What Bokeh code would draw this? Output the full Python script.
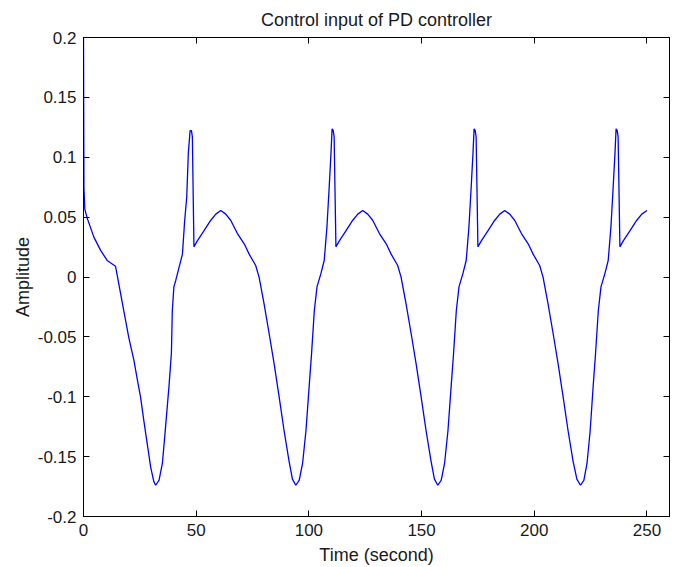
from bokeh.plotting import figure
from bokeh.models import LinearAxis, FixedTicker, Range1d, CustomJSTickFormatter
from bokeh.embed import file_html
from bokeh.resources import INLINE

# ---- data ----
time_s = [
    0.0, 0.2, 0.6, 1.6, 4.6, 7.6, 10.5, 14.2, 15.7, 17.9, 20.1, 22.4, 23.9, 25.3, 26.8, 28.3, 29.8, 31.2, 32.0,
    33.5, 35.0, 36.4, 37.9, 39.0, 39.4, 40.1, 40.9, 42.4, 43.9, 44.9, 45.8, 46.5, 47.3, 47.9, 48.3, 49.0,
    50.5, 53.5, 56.4, 58.7, 60.9, 63.1, 65.3, 68.3, 71.3, 73.5, 76.4, 77.9, 80.1, 82.4, 84.6, 86.8, 89.0, 91.2, 92.7, 94.2,
    95.7, 97.2, 98.7, 100.1, 101.2, 102.4, 103.6, 105.3, 106.8, 108.0, 109.0, 109.8, 110.3, 110.8, 111.2, 112.0,
    113.5, 116.5, 119.4, 121.7, 123.9, 126.1, 128.3, 131.3, 134.3, 136.5, 139.4, 140.9, 143.1, 145.4, 147.6, 149.8, 152.0, 154.2, 155.7, 157.2,
    158.7, 160.2, 161.7, 163.1, 164.2, 165.4, 166.6, 168.3, 169.8, 171.0, 172.0, 172.8, 173.3, 173.8, 174.2, 175.0,
    176.5, 179.5, 182.4, 184.7, 186.9, 189.1, 191.3, 194.3, 197.3, 199.5, 202.4, 203.9, 206.1, 208.4, 210.6, 212.8, 215.0, 217.2, 218.9, 220.5,
    222.0, 223.4, 224.8, 226.1, 227.2, 228.4, 229.6, 231.3, 232.8, 234.0, 235.0, 235.8, 236.3, 236.8, 237.2, 238.0,
    239.5, 242.5, 245.4, 247.7, 250.0,
]
amplitude = [
    0.200, 0.0737, 0.0565, 0.0494, 0.0333, 0.0222, 0.0138, 0.0090, -0.0061, -0.0284, -0.0506, -0.0698, -0.0860, -0.1001, -0.1203, -0.1395, -0.1587, -0.1708, -0.1739,
    -0.1698, -0.1557, -0.1254, -0.0920, -0.0637, -0.0284, -0.0082, -0.0031, 0.0080, 0.0191, 0.0474, 0.0666, 0.1030, 0.1222, 0.1222, 0.1171, 0.0252,
    0.0302, 0.0388, 0.0472, 0.0525, 0.0555, 0.0525, 0.0474, 0.0363, 0.0277, 0.0191, 0.0096, -0.0001, -0.0223, -0.0476, -0.0728, -0.1001, -0.1284, -0.1537, -0.1688, -0.1739,
    -0.1698, -0.1557, -0.1284, -0.0920, -0.0637, -0.0284, -0.0082, 0.0026, 0.0138, 0.0414, 0.0747, 0.1030, 0.1237, 0.1222, 0.1171, 0.0252,
    0.0302, 0.0388, 0.0472, 0.0525, 0.0555, 0.0525, 0.0474, 0.0363, 0.0277, 0.0191, 0.0096, -0.0001, -0.0223, -0.0476, -0.0728, -0.1001, -0.1284, -0.1537, -0.1688, -0.1739,
    -0.1698, -0.1557, -0.1284, -0.0920, -0.0637, -0.0284, -0.0082, 0.0026, 0.0138, 0.0414, 0.0747, 0.1030, 0.1237, 0.1222, 0.1171, 0.0252,
    0.0302, 0.0388, 0.0472, 0.0525, 0.0555, 0.0525, 0.0474, 0.0363, 0.0277, 0.0191, 0.0096, -0.0001, -0.0223, -0.0476, -0.0728, -0.1001, -0.1284, -0.1537, -0.1688, -0.1739,
    -0.1698, -0.1557, -0.1284, -0.0920, -0.0637, -0.0284, -0.0082, 0.0026, 0.0138, 0.0414, 0.0747, 0.1030, 0.1237, 0.1222, 0.1171, 0.0252,
    0.0302, 0.0388, 0.0472, 0.0525, 0.0555,
]

x_ticks = [0, 50, 100, 150, 200, 250]
x_tick_labels = ["0", "50", "100", "150", "200", "250"]
y_ticks = [-0.2, -0.15, -0.1, -0.05, 0, 0.05, 0.1, 0.15, 0.2]
y_tick_labels = ["-0.2", "-0.15", "-0.1", "-0.05", "0", "0.05", "0.1", "0.15", "0.2"]

FONT = "Liberation Sans"
TXT = "#1a1a1a"

p = figure(
    width=678, height=567,
    x_range=Range1d(0, 260), y_range=Range1d(-0.2, 0.2),
    output_backend="svg", toolbar_location=None,
    min_border_left=83, min_border_right=9, min_border_top=37, min_border_bottom=51,
    background_fill_color="white", border_fill_color="white",
    title="Control input of PD controller",
)
p.title.align = "center"
p.title.text_font = FONT
p.title.text_font_size = "18px"
p.title.text_font_style = "normal"
p.title.text_color = TXT
p.title.standoff = 15

p.grid.visible = False
p.outline_line_color = "black"
p.outline_line_width = 1

p.line(time_s, amplitude, line_color="#0000ff", line_width=1.3)

def style_axis(ax):
    ax.axis_line_color = "black"
    ax.major_tick_line_color = "black"
    ax.major_tick_in = 6
    ax.major_tick_out = 0
    ax.minor_tick_line_color = None
    ax.major_label_text_font = FONT
    ax.major_label_text_color = TXT
    ax.axis_label_text_font = FONT
    ax.axis_label_text_color = TXT
    ax.axis_label_text_font_style = "normal"

xa = p.xaxis[0]
ya = p.yaxis[0]
xa.ticker = FixedTicker(ticks=x_ticks)
ya.ticker = FixedTicker(ticks=y_ticks)
xa.major_label_overrides = dict(zip(x_ticks, x_tick_labels))
ya.major_label_overrides = dict(zip(y_ticks, y_tick_labels))
style_axis(xa)
style_axis(ya)
xa.major_label_text_font_size = "17px"
ya.major_label_text_font_size = "17px"
xa.major_label_standoff = 7
ya.major_label_standoff = 7
xa.axis_label = "Time (second)"
ya.axis_label = "Amplitude"
xa.axis_label_text_font_size = "18px"
ya.axis_label_text_font_size = "18px"
xa.axis_label_standoff = 6
ya.axis_label_standoff = 2

empty = CustomJSTickFormatter(code="return ''")
top = LinearAxis(ticker=FixedTicker(ticks=x_ticks), formatter=empty, major_label_standoff=0)
style_axis(top)
p.add_layout(top, "above")
right = LinearAxis(ticker=FixedTicker(ticks=y_ticks), formatter=empty, major_label_standoff=0)
style_axis(right)
p.add_layout(right, "right")

open("out.html", "w").write(file_html(p, INLINE))
